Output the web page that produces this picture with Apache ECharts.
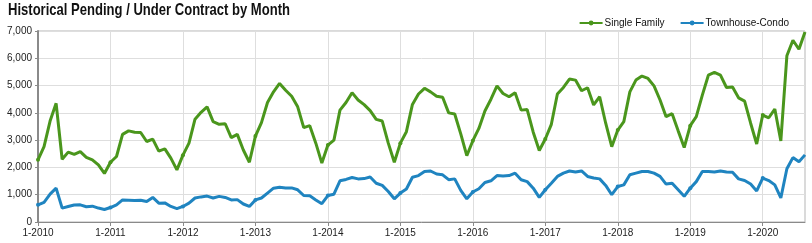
<!DOCTYPE html>
<html>
<head>
<meta charset="utf-8">
<script src="https://cdn.jsdelivr.net/npm/echarts@6/dist/echarts.min.js"></script>
<style>
html,body{margin:0;padding:0;background:#fff;}
#c{width:812px;height:243px;}
</style>
</head>
<body>
<div id="c"></div>
<script>
const titleText = 'Historical Pending / Under Contract by Month';
const seriesNames = ['Single Family', 'Townhouse-Condo'];
const years = [2010, 2011, 2012, 2013, 2014, 2015, 2016, 2017, 2018, 2019, 2020];
const monthsInLastYear = 8;
const yTicks = [0, 1000, 2000, 3000, 4000, 5000, 6000, 7000];

const singleFamily = [
  2280, 2760, 3700, 4350, 2300, 2560, 2480, 2580, 2370, 2280, 2090, 1780,
  2190, 2400, 3210, 3340, 3290, 3280, 2950, 3040, 2600, 2680, 2340, 1910,
  2450, 2890, 3770, 4020, 4220, 3680, 3580, 3600, 3090, 3210, 2640, 2190,
  3150, 3640, 4380, 4770, 5080, 4830, 4610, 4220, 3460, 3530, 2890, 2160,
  2820, 3000, 4100, 4380, 4740, 4470, 4300, 4080, 3760, 3700, 2890, 2190,
  2890, 3310, 4310, 4690, 4900, 4770, 4610, 4570, 4000, 3960, 3230, 2430,
  2980, 3430, 4070, 4500, 4990, 4710, 4590, 4740, 4100, 4120, 3290, 2620,
  3040, 3580, 4690, 4930, 5240, 5200, 4810, 4920, 4290, 4590, 3620, 2760,
  3370, 3680, 4770, 5200, 5350, 5260, 4990, 4470, 3860, 3970, 3340, 2730,
  3530, 3860, 4650, 5380, 5480, 5380, 4930, 4950, 4550, 4430, 3620, 2860,
  3920, 3820, 4140, 2970, 6090, 6660, 6330, 6960
];
const townhouseCondo = [
  630, 720, 1020, 1240, 510, 570, 620, 630, 560, 580, 510, 460,
  530, 630, 810, 800, 790, 800, 750, 900, 690, 700, 570, 490,
  570, 690, 880, 920, 950, 880, 940, 900, 810, 820, 660, 570,
  810, 880, 1060, 1240, 1270, 1250, 1250, 1180, 970, 960, 810, 670,
  970, 1020, 1510, 1560, 1630, 1580, 1590, 1650, 1420, 1340, 1120, 850,
  1060, 1210, 1640, 1700, 1850, 1870, 1760, 1730, 1550, 1580, 1160, 850,
  1100, 1220, 1450, 1510, 1700, 1690, 1700, 1790, 1550, 1480, 1240, 900,
  1180, 1420, 1670, 1790, 1870, 1830, 1870, 1670, 1610, 1580, 1340, 1000,
  1300, 1360, 1730, 1790, 1850, 1850, 1790, 1670, 1390, 1420, 1180, 940,
  1240, 1480, 1850, 1850, 1830, 1870, 1830, 1820, 1580, 1520, 1390, 1140,
  1610, 1520, 1360, 880, 1950, 2360, 2210, 2460
];

const categories = [];
years.forEach((y, i) => {
  const n = i === years.length - 1 ? monthsInLastYear : 12;
  for (let m = 1; m <= n; m++) categories.push(m + '-' + y);
});

const colors = ['#4a961c', '#1f84c0'];
const chart = echarts.init(document.getElementById('c'), null, {renderer: 'canvas'});
const isJan = (idx) => idx % 12 === 0;

// condensed title: measure and squeeze horizontally to the reference width
const titleFont = 'bold 17px "Liberation Sans", Arial, sans-serif';
const mctx = document.createElement('canvas').getContext('2d');
mctx.font = titleFont;
const titleScale = 282 / mctx.measureText(titleText).width;

chart.setOption({
  animation: false,
  graphic: [{
    type: 'text', left: 8, top: 2, scaleX: titleScale, originX: 0,
    style: {text: titleText, font: titleFont, fill: '#111'}
  }],
  legend: {
    data: seriesNames, right: 18, top: 13, itemWidth: 23, itemHeight: 6, itemGap: 15,
    textStyle: {fontFamily: 'Liberation Sans, Arial, sans-serif', fontSize: 10, color: '#111', padding: [0, 0, 0, -3]}
  },
  grid: {left: 38, right: 7, top: 31, bottom: 21, show: true, borderColor: '#b5b5b5', borderWidth: 1, containLabel: false},
  xAxis: {
    type: 'category', data: categories, boundaryGap: false,
    axisLine: {lineStyle: {color: '#8a8a8a', width: 1}},
    axisTick: {show: true, length: 4, interval: (i) => isJan(i), lineStyle: {color: '#8a8a8a'}},
    axisLabel: {interval: (i) => isJan(i), fontFamily: 'Liberation Sans, Arial, sans-serif', fontSize: 10, color: '#222', margin: 6},
    splitLine: {show: true, interval: (i) => isJan(i), lineStyle: {color: '#dedede', width: 1}}
  },
  yAxis: {
    type: 'value', min: yTicks[0], max: yTicks[yTicks.length - 1], interval: 1000,
    axisLine: {show: true, lineStyle: {color: '#8a8a8a', width: 2}},
    axisTick: {show: true, length: 3, lineStyle: {color: '#8a8a8a'}},
    axisLabel: {fontFamily: 'Liberation Sans, Arial, sans-serif', fontSize: 10, color: '#222', margin: 6,
      formatter: (v) => v.toLocaleString('en-US')},
    splitLine: {lineStyle: {color: '#dedede', width: 1}}
  },
  series: [
    {name: seriesNames[0], type: 'line', data: singleFamily, color: colors[0], symbol: 'circle', symbolSize: 4,
     lineStyle: {width: 3, color: colors[0]}, itemStyle: {color: colors[0]}},
    {name: seriesNames[1], type: 'line', data: townhouseCondo, color: colors[1], symbol: 'circle', symbolSize: 4,
     lineStyle: {width: 3, color: colors[1]}, itemStyle: {color: colors[1]}}
  ]
});
</script>
</body>
</html>
